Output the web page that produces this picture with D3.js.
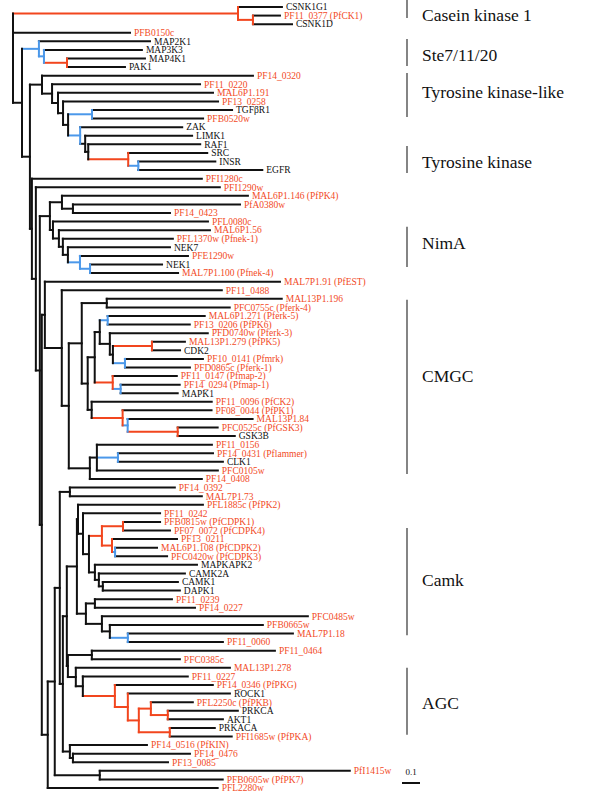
<!DOCTYPE html>
<html><head><meta charset="utf-8">
<script src="https://cdn.jsdelivr.net/npm/d3@7"></script>
<style>body{margin:0;background:#fff}</style>
</head><body><svg id="c" width="600" height="801"></svg>
<script>
// Tree edges: [node, parent, branch length (substitutions/site), branch colour class]
const edges = [
["root","",0],
["ck1","root",1.250,"r"],
["CSNK1G1","ck1",0.244],
["ck1b","ck1",0.083,"r"],
["PF11_0377 (PfCK1)","ck1b",0.150],
["CSNK1D","ck1b",0.217],
["PFB0150c","root",0.650],
["X","root",0.050],
["ste","X",0.094,"b"],
["MAP2K1","ste",0.617],
["ste2","ste",0.028,"b"],
["MAP3K3","ste2",0.544],
["ste3","ste2",0.128,"r"],
["MAP4K1","ste3",0.433],
["PAK1","ste3",0.322],
["Y","X",0.044],
["tkl","Y",0.067],
["PF14_0320","tkl",1.172],
["t52","tkl",0.056],
["PF11_0220","t52",0.822],
["t58","t52",0.033],
["MAL6P1.191","t58",0.861],
["t63","t58",0.028],
["PF13_0258","t63",0.861],
["t68","t63",0.028],
["t92","t68",0.133,"b"],
["TGFβR1","t92",0.778],
["PFB0520w","t92",0.617],
["t80","t68",0.067,"b"],
["ZAK","t80",0.567],
["t85","t80",0.028],
["LIMK1","t85",0.594],
["t88","t85",0.017],
["RAF1","t88",0.622],
["tk","t88",0.222,"r"],
["SRC","tk",0.439],
["tk2","tk",0.056,"b"],
["INSR","tk2",0.428],
["EGFR","tk2",0.689],
["Y2","Y",0.011],
["PFI1280c","Y2",0.944],
["Y3","Y2",0.022],
["PFI1290w","Y3",1.022],
["Y4","Y3",0.022],
["n50","Y4",0.056],
["p62","n50",0.067],
["MAL6P1.146 (PfPK4)","p62",1.033],
["p73","p62",0.061],
["PfA0380w","p73",0.928],
["PF14_0423","p73",0.539],
["m53","n50",0.017],
["PFL0080c","m53",0.861],
["m59","m53",0.033],
["MAL6P1.56","m59",0.839],
["m63","m59",0.022],
["PFL1370w (Pfnek-1)","m63",0.611],
["m68","m63",0.028],
["NEK7","m68",0.567],
["m80","m68",0.067,"b"],
["PFE1290w","m80",0.600],
["m90","m80",0.056,"b"],
["NEK1","m90",0.400],
["MAL7P1.100 (Pfnek-4)","m90",0.489],
["Z","Y4",0.011],
["n45","Z",0.017],
["MAL7P1.91 (PfEST)","n45",1.306],
["n62","n45",0.094],
["PF11_0488","n62",0.889],
["c69","n62",0.039],
["cA","c69",0.072],
["c107","cA",0.139],
["MAL13P1.196","c107",0.972],
["PFC0755c (Pferk-4)","c107",0.683],
["cC","cA",0.033],
["c95","cC",0.039],
["c100","c95",0.028],
["c108","c100",0.044,"b"],
["MAL6P1.271 (Pferk-5)","c108",0.539],
["PF13_0206 (PfPK6)","c108",0.456],
["c110","c100",0.056],
["PFD0740w (Pferk-3)","c110",0.544],
["c113","c110",0.017],
["c152","c113",0.217,"r"],
["MAL13P1.279 (PfPK5)","c152",0.183],
["CDK2","c152",0.156],
["c125","c113",0.067,"b"],
["PF10_0141 (Pfmrk)","c125",0.433],
["PFD0865c (Pferk-1)","c125",0.361],
["c113r","c95",0.100,"r"],
["PF11_0147 (Pfmap-2)","c113r",0.356],
["c121","c113r",0.044,"b"],
["PF14_0294 (Pfmap-1)","c121",0.328],
["MAPK1","c121",0.317],
["c92","cC",0.022],
["PF11_0096 (PfCK2)","c92",0.667],
["c123","c92",0.172,"r"],
["PF08_0044 (PfPK1)","c123",0.494],
["c128","c123",0.028,"b"],
["MAL13P1.84","c128",0.694],
["c178","c128",0.278,"r"],
["PFC0525c (PfGSK3)","c178",0.222],
["GSK3B","c178",0.317],
["cB","c69",0.117],
["c97","cB",0.039],
["PF11_0156","c97",0.639],
["c118","c97",0.117,"b"],
["PF14_0431 (Pflammer)","c118",0.528],
["CLK1","c118",0.583],
["PFC0105w","c97",0.672],
["PF14_0408","cB",0.622],
["n48","Z",0.033],
["n55","n48",0.039],
["n60","n55",0.028],
["k70","n60",0.056],
["PF14_0392","k70",0.583],
["MAL7P1.73","k70",0.733],
["n63","n60",0.017],
["n67","n63",0.022],
["k77","n67",0.056],
["k78","k77",0.006],
["PFL1885c (PfPK2)","k78",0.694],
["k83","k78",0.028],
["PF11_0242","k83",0.428],
["k89","k83",0.033],
["k102","k89",0.072,"r"],
["k123","k102",0.117,"r"],
["PFB0815w (PfCDPK1)","k123",0.206],
["PF07_0072 (PfCDPK4)","k123",0.261],
["k112","k102",0.056,"r"],
["PF13_0211","k112",0.361],
["k115","k112",0.017,"b"],
["MAL6P1.108 (PfCDPK2)","k115",0.233],
["PFC0420w (PfCDPK3)","k115",0.289],
["k95","k89",0.033],
["MAPKAPK2","k95",0.567],
["k99","k95",0.022],
["CAMK2A","k99",0.478],
["k103","k99",0.022],
["CAMK1","k103",0.417],
["DAPK1","k103",0.428],
["k86","k77",0.050],
["k95b","k86",0.050],
["PF11_0239","k95b",0.428],
["PF14_0227","k95b",0.556],
["k102b","k86",0.089],
["PFC0485w","k102b",1.144],
["k110","k102b",0.044],
["PFB0665w","k110",0.850],
["k128","k110",0.100,"b"],
["MAL7P1.18","k128",0.917],
["PF11_0060","k128",0.528],
["n68","n67",0.006],
["a92","n68",0.133],
["PF11_0464","a92",1.017],
["PFC0385c","a92",0.489],
["a76","n68",0.044],
["MAL13P1.278","a76",0.856],
["a83","a76",0.039],
["PF11_0227","a83",0.583],
["a115","a83",0.178,"r"],
["PF14_0346 (PfPKG)","a115",0.544],
["a128","a115",0.072,"r"],
["ROCK1","a128",0.567],
["a139","a128",0.061,"r"],
["a151","a139",0.067,"r"],
["PFL2250c (PfPKB)","a151",0.233],
["a168","a151",0.094,"r"],
["PRKCA","a168",0.389],
["AKT1","a168",0.306],
["a170","a139",0.172,"r"],
["PRKACA","a170",0.250],
["PFI1685w (PfPKA)","a170",0.344],
["g70","n63",0.039],
["PF14_0516 (PfKIN)","g70",0.428],
["g73","g70",0.017],
["PF14_0476","g73",0.650],
["PF13_0085","g73",0.528],
["h100","n55",0.250],
["PfI1415w","h100",1.389],
["PFB0605w (PfPK7)","h100",0.683],
["PFL2280w","n48",0.944]
];

// Kinase group brackets, in leaf-row units
const groupNames   = ["Casein kinase 1","Ste7/11/20","Tyrosine kinase-like","Tyrosine kinase","NimA","CMGC","Camk","AGC"];
const groupFrom    = [-0.82, 3.73, 7.69, 16.2, 25.6, 34.1, 60.7, 77.0];
const groupTo      = [1.28, 6.87, 12.82, 19.35, 30.3, 54.4, 73.2, 84.8];
const groupLabelAt = [0.93, 5.59, 9.9, 18.06, 27.5, 43.0, 66.77, 81.1];
const scaleBarValue = 0.1;
const scaleBarLabel = "0.1";

const RED = "#f2461e", BLUE = "#4b98ea", TEXT_RED = "#f24a26";
const svg = d3.select("#c");

const root = d3.stratify()
  .id(d => d[0])
  .parentId(d => d[1] === "" ? null : d[1])(edges);

root.eachBefore(n => { n.dist = n.parent ? n.parent.dist + n.data[2] : 0; });
const leaves = root.leaves();
const x = d3.scaleLinear().domain([0, 1]).range([13, 193]);
const y = d3.scaleLinear().domain([0, leaves.length - 1]).range([7, 788]);
leaves.forEach((l, i) => { l.yy = y(i); });
root.eachAfter(n => {
  if (n.children) n.yy = (n.children[0].yy + n.children[n.children.length - 1].yy) / 2;
  n.xx = x(n.dist);
});
const col = n => n.data[3] === "r" ? RED : n.data[3] === "b" ? BLUE : "#111";

const g = svg.append("g");
const nodes = root.descendants();
// horizontal branches
g.selectAll("line.h").data(nodes.filter(n => n.parent)).join("line")
  .attr("x1", n => n.parent.xx).attr("x2", n => n.xx)
  .attr("y1", n => n.yy).attr("y2", n => n.yy)
  .attr("stroke", n => n.children ? col(n) : "#111")
  .attr("stroke-width", 2).attr("stroke-linecap", "square");
// vertical connectors
g.selectAll("line.v").data(nodes.filter(n => n.children)).join("line")
  .attr("x1", n => n.xx).attr("x2", n => n.xx)
  .attr("y1", n => n.children[0].yy).attr("y2", n => n.children[n.children.length - 1].yy)
  .attr("stroke", n => col(n))
  .attr("stroke-width", 2).attr("stroke-linecap", "square");

// leaf labels
g.selectAll("text.leaf").data(leaves).join("text")
  .attr("x", n => n.xx + 4).attr("y", n => n.yy).attr("dy", "0.35em")
  .attr("font-family", "Liberation Serif, serif").attr("font-size", 9.5)
  .attr("fill", n => /^(PF|Pf|MAL)/.test(n.id) ? TEXT_RED : "#111")
  .text(n => n.id);

// group brackets
const gb = svg.append("g");
groupNames.forEach((name, i) => {
  gb.append("line").attr("x1", 407).attr("x2", 407)
    .attr("y1", y(groupFrom[i])).attr("y2", y(groupTo[i]))
    .attr("stroke", "#666").attr("stroke-width", 1.6);
  gb.append("text").attr("x", 422).attr("y", y(groupLabelAt[i])).attr("dy", "0.35em")
    .attr("font-family", "Liberation Serif, serif").attr("font-size", 17.5)
    .attr("fill", "#111").text(name);
});

// scale bar
const sb = svg.append("g");
const sbx0 = 402, sbLen = x(scaleBarValue) - x(0);
sb.append("line").attr("x1", sbx0).attr("x2", sbx0 + sbLen).attr("y1", 783).attr("y2", 783)
  .attr("stroke", "#111").attr("stroke-width", 2);
sb.append("text").attr("x", sbx0 + sbLen / 2).attr("y", 775).attr("text-anchor", "middle")
  .attr("font-family", "Liberation Serif, serif").attr("font-size", 9).attr("fill", "#111")
  .text(scaleBarLabel);
</script></body></html>
